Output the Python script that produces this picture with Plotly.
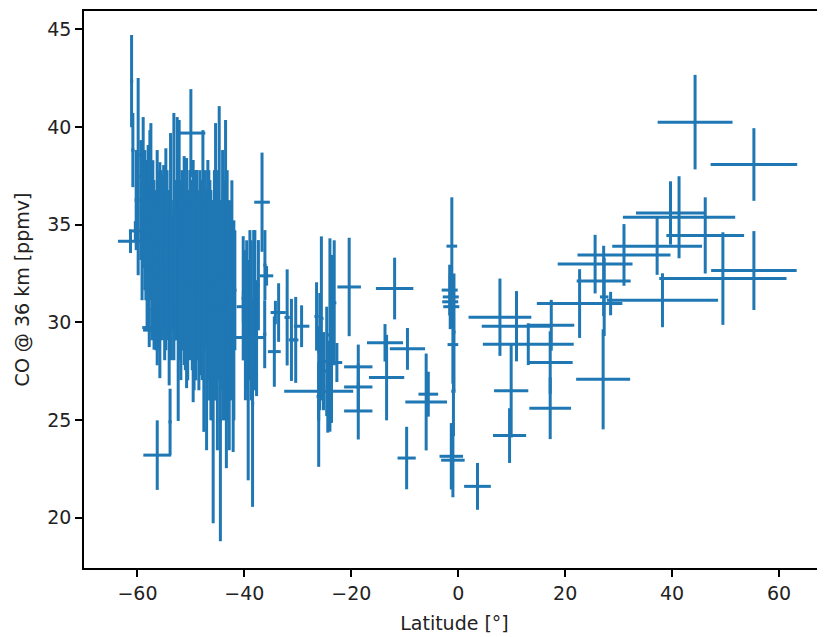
import plotly.graph_objects as go

# Latitude [deg], CO @ 36 km [ppmv], latitude error, CO error
lat = [
    # dense southern block
    -61.10, -60.86, -59.87, -58.93, -58.43, -58.00, -57.49, -57.12, -56.74, -56.31,
    -55.81, -55.34, -54.69, -54.31, -54.07, -53.81, -53.47, -53.19, -52.82, -52.57,
    -52.38, -52.20, -51.88, -51.50, -51.26, -50.81, -50.38, -50.01, -49.92, -49.58,
    -49.07, -48.70, -48.32, -48.04, -47.76, -47.58, -47.07, -46.83, -46.45, -46.08,
    -45.84, -45.39, -45.05, -44.71, -44.49, -44.08, -43.83, -43.52, -43.37, -43.09,
    -42.84, -42.53, -42.10, -41.78, -40.22, -39.81, -39.29, -38.97, -38.47, -38.04,
    -37.72, -37.38, -36.16, -36.20, -59.36, -58.62, -57.68, -56.93, -56.09, -55.10,
    -51.04, -49.26, -47.30, -45.61, -44.30, -43.22, -42.34,
    -60.24, -59.14, -58.20, -57.83, -57.31, -56.56, -55.94, -55.59, -54.91, -54.46,
    -53.66, -52.99, -52.03, -51.69, -50.60, -50.20, -49.75, -49.41, -48.89, -48.51,
    -47.90, -46.93, -46.65, -46.27, -45.24, -44.86, -43.97, -42.71, -41.97, -39.57,
    -38.73, -38.26,
    -61.30, -60.40, -59.10, -56.90, -57.80, -56.30, -53.90, -48.90, -39.60, -40.20,
    -42.60, -36.70, -35.85, -34.20, -34.40, -33.60,
    # -33 .. -22
    -32.00, -31.20, -30.40, -29.30,
    -25.60, -24.00, -23.70, -26.50, -26.10, -24.40, -22.70, -25.20, -25.90, -24.60,
    -23.20, -26.10,
    # -21 .. -3
    -20.40, -11.90, -13.70, -9.50, -13.40, -6.00, -5.60, -9.65, -18.70, -18.70, -18.70,
    # equator
    -1.20, -1.60, -1.40, -1.50, -1.30, -1.00, -0.90, -1.30, -1.00, -0.80,
    # north
    44.3, 55.3, 55.3, 39.7, 41.3, 46.2, 37.2, 31.0, 49.5, 38.2,
    22.7, 27.1, 17.2, 9.6, 9.9, 17.2, 13.1, 17.4, 7.8, 3.6,
    10.9, 25.6, 27.2, 27.3, 28.5,
]
co = [
    42.35, 38.82, 37.46, 36.64, 34.72, 35.67, 35.67, 33.95, 33.44, 33.31,
    32.67, 33.31, 33.74, 32.93, 31.77, 35.41, 32.54, 34.39, 32.67, 35.82,
    29.32, 36.26, 32.16, 32.41, 33.16, 32.52, 32.41, 39.69, 33.44, 32.11,
    31.90, 31.90, 32.54, 33.05, 34.46, 30.32, 29.85, 32.67, 31.64, 30.62,
    26.70, 34.90, 30.11, 36.10, 24.96, 32.93, 31.13, 34.72, 28.11, 30.62,
    28.57, 30.62, 28.53, 31.64, 31.23, 29.85, 27.55, 30.88, 25.84, 30.62,
    29.19, 31.90, 32.93, 29.39, 36.26, 35.23, 35.74, 33.95, 33.18, 33.82,
    32.16, 33.18, 33.18, 31.90, 31.39, 32.41, 34.20,
    36.26, 34.46, 33.44, 34.46, 32.67, 32.41, 33.18, 33.69, 32.41, 33.44,
    32.16, 33.18, 32.41, 33.18, 31.90, 32.93, 31.90, 31.90, 32.93, 31.64,
    32.16, 31.39, 32.41, 30.88, 31.64, 32.41, 30.88, 31.13, 30.10, 30.36,
    30.10, 31.13,
    34.15, 34.68, 38.57, 29.60, 29.73, 23.20, 24.90, 36.10, 29.22, 30.80,
    31.13, 36.15, 32.38, 30.50, 28.50, 30.50,
    30.25, 29.10, 29.10, 29.80,
    30.20, 29.35, 29.15, 30.30, 26.20, 26.70, 27.94, 27.50, 28.50, 28.00,
    31.00, 26.47,
    31.81, 31.73, 28.95, 28.64, 27.17, 25.92, 26.32, 23.05, 27.72, 26.69, 25.46,
    33.90, 31.65, 31.30, 31.05, 30.80, 28.86, 26.47, 23.14, 22.94, 29.50,
    40.25, 38.08, 32.65, 35.60, 35.38, 34.45, 33.90, 33.45, 32.24, 31.13,
    30.96, 27.08, 25.60, 24.20, 26.50, 27.94, 28.88, 29.85, 30.26, 21.60,
    29.80, 32.98, 32.12, 31.30, 30.96,
]
lat_err = [
    0.3, 0.3, 0.3, 0.3, 0.3, 0.3, 0.3, 0.3, 0.3, 0.3,
    0.3, 0.3, 0.3, 0.3, 0.3, 0.3, 0.3, 0.3, 0.3, 0.3,
    0.3, 0.3, 0.3, 0.3, 0.3, 0.3, 0.3, 2.7, 0.3, 0.3,
    0.3, 0.3, 0.3, 0.3, 0.3, 0.3, 0.3, 0.3, 0.3, 0.3,
    0.3, 0.3, 0.3, 0.3, 0.3, 0.3, 0.3, 0.3, 0.3, 0.3,
    0.3, 0.3, 0.3, 0.3, 0.3, 0.3, 0.3, 0.3, 0.3, 0.3,
    0.3, 0.3, 0.3, 0.3, 0.3, 0.3, 0.3, 0.3, 0.3, 0.3,
    0.3, 0.3, 0.3, 0.3, 0.3, 0.3, 0.3,
    0.3, 0.3, 0.3, 0.3, 0.3, 0.3, 0.3, 0.3, 0.3, 0.3,
    0.3, 0.3, 0.3, 0.3, 0.3, 0.3, 0.3, 0.3, 0.3, 0.3,
    0.3, 0.3, 0.3, 0.3, 0.3, 0.3, 0.3, 0.3, 0.3, 0.3,
    0.3, 0.3,
    2.34, 1.2, 0.6, 2.05, 1.3, 2.6, 0.3, 1.0, 3.46, 1.25,
    0.7, 1.46, 1.25, 0.9, 1.2, 1.34,
    0.5, 0.5, 0.5, 1.45,
    0.4, 0.4, 0.4, 0.4, 0.4, 0.4, 1.0, 0.5, 0.5, 0.5,
    0.4, 6.45,
    2.2, 3.5, 3.37, 3.3, 3.3, 3.9, 1.84, 1.7, 2.65, 2.65, 2.65,
    1.0, 1.5, 1.5, 1.5, 1.5, 1.0, 0.4, 2.2, 2.2, 0.3,
    7.0, 8.1, 8.0, 6.45, 10.5, 7.27, 8.4, 8.7, 11.9, 10.4,
    8.0, 5.05, 3.9, 3.1, 3.2, 4.2, 8.5, 4.3, 5.87, 2.5,
    6.5, 7.0, 5.05, 0.8, 1.5,
]
co_err = [
    2.36, 1.90, 5.05, 3.87, 3.59, 3.41, 4.53, 4.35, 3.33, 5.51,
    5.53, 4.23, 5.17, 3.33, 5.00, 4.28, 2.95, 6.33, 3.59, 4.69,
    4.37, 4.10, 5.12, 3.84, 5.35, 5.89, 3.84, 2.25, 3.84, 6.20,
    4.87, 3.84, 5.25, 3.97, 5.38, 5.93, 6.40, 5.64, 5.64, 5.64,
    6.99, 5.30, 6.66, 4.97, 6.17, 5.89, 6.15, 5.64, 5.58, 5.64,
    5.12, 4.61, 5.17, 3.07, 3.18, 3.84, 5.64, 3.84, 5.29, 4.10,
    2.97, 2.31, 1.79, 1.74, 3.07, 3.59, 4.10, 3.33, 4.61, 4.23,
    4.61, 4.61, 4.61, 5.89, 4.87, 5.38, 3.07,
    2.56, 3.33, 3.84, 3.84, 3.59, 3.84, 4.10, 4.10, 4.35, 4.35,
    4.10, 4.10, 4.35, 4.61, 4.87, 4.87, 4.35, 5.38, 4.87, 5.12,
    5.12, 5.38, 5.38, 5.89, 5.64, 5.38, 5.89, 5.12, 5.12, 3.84,
    4.10, 3.59,
    0.6, 0.5, 0.5, 1.0, 1.0, 1.78, 1.7, 0.5, 1.5, 0.8,
    1.0, 2.54, 0.5, 0.6, 1.8, 1.5,
    2.46, 2.1, 2.2, 1.07,
    4.2, 4.95, 4.3, 1.75, 3.6, 2.35, 1.0, 2.0, 3.0, 2.8,
    3.2, 1.5,
    2.52, 1.58, 0.96, 1.07, 2.19, 2.48, 1.15, 1.6, 1.14, 1.2, 1.46,
    2.5, 1.3, 1.2, 1.4, 1.1, 2.0, 2.3, 1.7, 1.9, 3.0,
    2.42, 1.86, 2.02, 1.62, 2.1, 1.95, 1.47, 1.58, 2.37, 1.38,
    1.76, 2.56, 1.58, 1.4, 2.4, 1.6, 1.07, 1.3, 1.98, 1.2,
    1.8, 1.5, 1.8, 2.0, 0.6,
]

x_ticks = [-60, -40, -20, 0, 20, 40, 60]
y_ticks = [20, 25, 30, 35, 40, 45]

blue = "#1f77b4"
fig = go.Figure(go.Scatter(
    x=lat, y=co, mode="markers",
    marker=dict(size=1, opacity=0),
    error_x=dict(type="data", array=lat_err, symmetric=True, thickness=3, width=0, color=blue),
    error_y=dict(type="data", array=co_err, symmetric=True, thickness=3, width=0, color=blue),
    hoverinfo="skip", showlegend=False,
))

font = dict(family="DejaVu Sans", size=19, color="#222222")
fig.update_layout(
    width=817, height=629,
    margin=dict(l=76, r=0, t=3, b=69),
    paper_bgcolor="white", plot_bgcolor="white",
    font=font,
)
fig.update_xaxes(
    range=[-70.0, 68.6], tickvals=x_ticks, showgrid=False, zeroline=False,
    showline=True, linecolor="black", linewidth=1.7, mirror=True,
    ticks="outside", ticklen=7, tickwidth=1.7, tickcolor="black",
    automargin=False,
    title=dict(text="Latitude [°]", font=font, standoff=14),
)
fig.update_yaxes(
    range=[17.42, 45.94], tickvals=y_ticks, showgrid=False, zeroline=False,
    showline=True, linecolor="black", linewidth=1.7,
    ticks="outside", ticklen=7, tickwidth=1.7, tickcolor="black",
    automargin=False,
    title=dict(text="CO @ 36 km [ppmv]", font=font, standoff=13),
)
fig.write_html("out.html")
